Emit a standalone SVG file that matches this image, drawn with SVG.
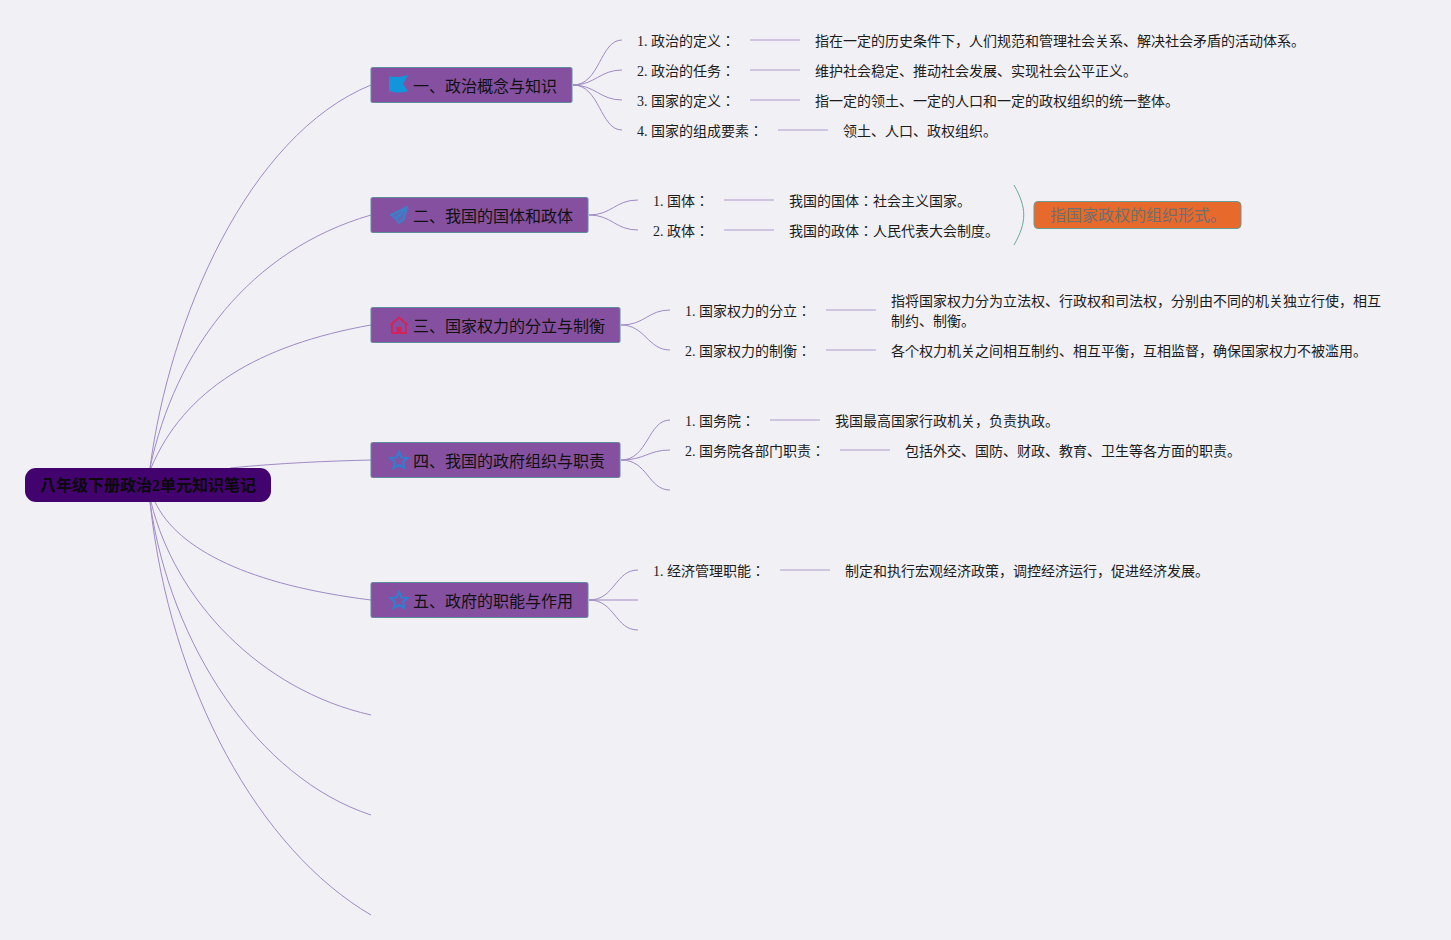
<svg xmlns="http://www.w3.org/2000/svg" width="1451" height="940" viewBox="0 0 1451 940">
<style>
text{font-family:"Liberation Serif","Noto Sans CJK JP",serif;fill:#1c1c1c}
.l{font-size:14px}
.b{font-size:16px;fill:#111}
.br rect{fill:#85509f;stroke:#5f8c9c;stroke-width:1}
.c path{fill:none;stroke:#a08ac4;stroke-width:1}
.c path.d{stroke:#c3b6da;stroke-width:1.5}
.c path.s{stroke:#6aa89c}
</style>
<rect width="1451" height="940" fill="#f0f0f5"/>
<g id="connectors" class="c">
<path d="M150 468C169 320 248 135 371 85"/>
<path d="M150 468C175 350 250 250 371 215"/>
<path d="M151 468C184 390 258 345 371 325"/>
<path d="M230 468C280 463 330 461 371 460"/>
<path d="M155 502C178 550 250 585 371 600"/>
<path d="M151 502C175 600 260 690 371 715"/>
<path d="M150 502C170 645 258 778 371 815"/>
<path d="M150 502C170 690 260 850 371 915"/>
<path d="M573 85C600 85 600 40 622 40"/>
<path d="M573 85C595 85 600 70 622 70"/>
<path d="M573 85C595 85 600 100 622 100"/>
<path d="M573 85C600 85 600 130 622 130"/>
<path d="M589 215C612 215 615 200 638 200"/>
<path d="M589 215C612 215 615 230 638 230"/>
<path d="M621 325C645 325 648 310 670 310"/>
<path d="M621 325C645 325 648 350 670 350"/>
<path d="M621 460C648 460 648 420 670 420"/>
<path d="M621 460C645 460 648 450 670 450"/>
<path d="M621 460C648 460 648 490 670 490"/>
<path d="M589 600C615 600 615 570 638 570"/>
<path d="M589 600H638"/>
<path d="M589 600C615 600 615 630 638 630"/>
<path class="d" d="M750 40H800M750 70H800M750 100H800M778 130H828M724 200H774M724 230H774M826 310H876M826 350H876M770 420H820M840 450H890M780 570H830"/>
<path class="s" d="M1014 185C1027 208 1027 222 1014 245"/>
</g>
<g id="root"><rect x="25" y="468" width="246" height="34" rx="11" fill="#42036f"/><text x="40" y="491" font-size="16" font-weight="bold" style="fill:#0a0a0a">八年级下册政治2单元知识笔记</text></g>
<g id="n1" class="br"><rect x="371" y="67.500" width="201" height="35" rx="1.500"/><path d="M389 76C395 78 401 77 408 75L403 84L408 91C401 93 395 93 390 91L389 94Z" fill="#1296db"/><text class="b" x="413" y="92">一、政治概念与知识</text></g>
<g id="n2" class="br"><rect x="371" y="197.500" width="217" height="35" rx="1.500"/><path d="M407 207L391 215L396 219L399 223L402 221L404 219ZM396 219L407 207" fill="#5a6ab8" stroke="#3f7ec9" stroke-width="2" stroke-linejoin="round"/><text class="b" x="413" y="222">二、我国的国体和政体</text></g>
<g id="n3" class="br"><rect x="371" y="307.500" width="249" height="35" rx="1.500"/><path d="M390.500 325L399 317.500L407.500 325M392 324V333H406V324" fill="none" stroke="#d4235a" stroke-width="1.800"/><rect x="396.500" y="327" width="5" height="6" style="fill:#d4235a;stroke:none"/><text class="b" x="413" y="332">三、国家权力的分立与制衡</text></g>
<g id="n4" class="br"><rect x="371" y="442.500" width="249" height="35" rx="1.500"/><path d="M399 452L401.500 457.500L407.500 458L403 462L404.500 468L399 465L393.500 468L395 462L390.500 458L396.500 457.500Z" fill="none" stroke="#2f7fd0" stroke-width="2"/><text class="b" x="413" y="467">四、我国的政府组织与职责</text></g>
<g id="n5" class="br"><rect x="371" y="582.500" width="217" height="35" rx="1.500"/><path d="M399 592L401.500 597.500L407.500 598L403 602L404.500 608L399 605L393.500 608L395 602L390.500 598L396.500 597.500Z" fill="none" stroke="#2f7fd0" stroke-width="2"/><text class="b" x="413" y="607">五、政府的职能与作用</text></g>
<g id="leaf1"><text class="l" x="637" y="46">1. 政治的定义：</text><text class="l" x="815" y="46">指在一定的历史条件下，人们规范和管理社会关系、解决社会矛盾的活动体系。</text></g>
<g id="leaf2"><text class="l" x="637" y="76">2. 政治的任务：</text><text class="l" x="815" y="76">维护社会稳定、推动社会发展、实现社会公平正义。</text></g>
<g id="leaf3"><text class="l" x="637" y="106">3. 国家的定义：</text><text class="l" x="815" y="106">指一定的领土、一定的人口和一定的政权组织的统一整体。</text></g>
<g id="leaf4"><text class="l" x="637" y="136">4. 国家的组成要素：</text><text class="l" x="843" y="136">领土、人口、政权组织。</text></g>
<g id="leaf5"><text class="l" x="653" y="206">1. 国体：</text><text class="l" x="789" y="206">我国的国体：社会主义国家。</text></g>
<g id="leaf6"><text class="l" x="653" y="236">2. 政体：</text><text class="l" x="789" y="236">我国的政体：人民代表大会制度。</text></g>
<g id="leaf7"><text class="l" x="685" y="316">1. 国家权力的分立：</text><text class="l" x="891" y="306">指将国家权力分为立法权、行政权和司法权，分别由不同的机关独立行使，相互</text><text class="l" x="891" y="326">制约、制衡。</text></g>
<g id="leaf8"><text class="l" x="685" y="356">2. 国家权力的制衡：</text><text class="l" x="891" y="356">各个权力机关之间相互制约、相互平衡，互相监督，确保国家权力不被滥用。</text></g>
<g id="leaf9"><text class="l" x="685" y="426">1. 国务院：</text><text class="l" x="835" y="426">我国最高国家行政机关，负责执政。</text></g>
<g id="leaf10"><text class="l" x="685" y="456">2. 国务院各部门职责：</text><text class="l" x="905" y="456">包括外交、国防、财政、教育、卫生等各方面的职责。</text></g>
<g id="leaf11"><text class="l" x="653" y="576">1. 经济管理职能：</text><text class="l" x="845" y="576">制定和执行宏观经济政策，调控经济运行，促进经济发展。</text></g>
<g id="summary"><rect x="1034" y="201.500" width="207" height="27" rx="4" fill="#e8692c" stroke="#6a9a90"/><text x="1050" y="221" font-size="16" style="fill:#6f6f6f">指国家政权的组织形式。</text></g>
</svg>
